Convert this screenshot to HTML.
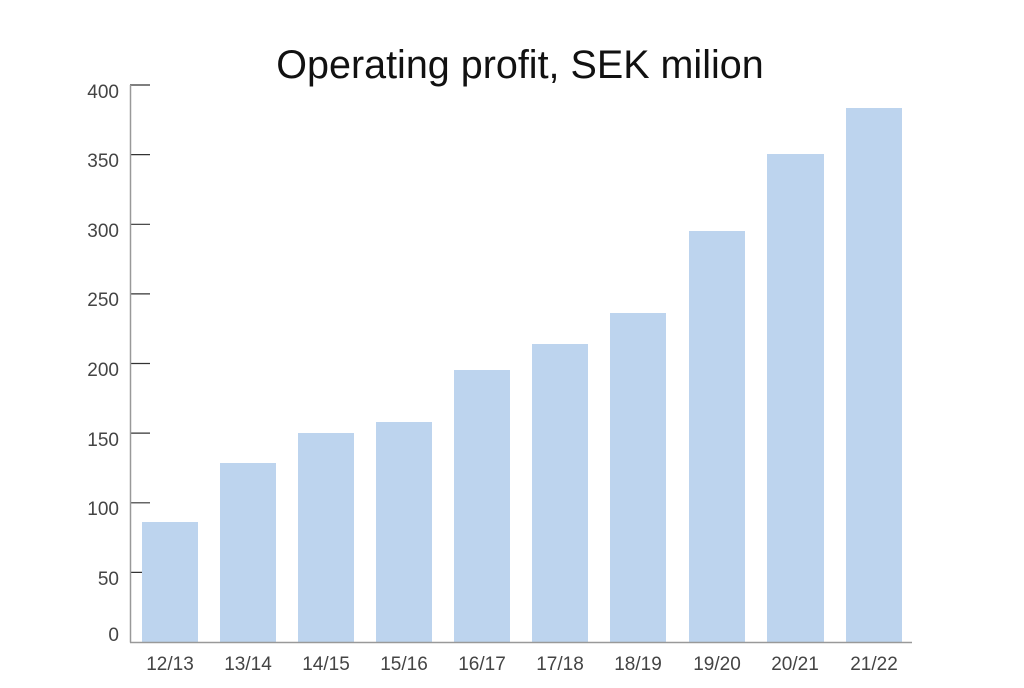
<!DOCTYPE html>
<html><head><meta charset="utf-8"><style>
html,body{margin:0;padding:0;background:#fff;}
</style></head><body>
<svg width="1024" height="683" xmlns="http://www.w3.org/2000/svg" font-family="Liberation Sans, sans-serif">
<rect width="1024" height="683" fill="#fff"/>
<text x="520" y="78" font-size="39.5" text-anchor="middle" fill="#111">Operating profit, SEK milion</text>
<g stroke="#333" stroke-width="1.2">
<line x1="130" y1="85" x2="150" y2="85"/>
<line x1="130" y1="154.6" x2="150" y2="154.6"/>
<line x1="130" y1="224.3" x2="150" y2="224.3"/>
<line x1="130" y1="293.9" x2="150" y2="293.9"/>
<line x1="130" y1="363.5" x2="150" y2="363.5"/>
<line x1="130" y1="433.1" x2="150" y2="433.1"/>
<line x1="130" y1="502.8" x2="150" y2="502.8"/>
<line x1="130" y1="572.4" x2="150" y2="572.4"/>
</g>
<g fill="#bdd4ee">
<rect x="142" y="522" width="56" height="120"/>
<rect x="220" y="463" width="56" height="179"/>
<rect x="298" y="433" width="56" height="209"/>
<rect x="376" y="422" width="56" height="220"/>
<rect x="454" y="370" width="56" height="272"/>
<rect x="532" y="344" width="56" height="298"/>
<rect x="610" y="313" width="56" height="329"/>
<rect x="689" y="231" width="56" height="411"/>
<rect x="767" y="154" width="57" height="488"/>
<rect x="846" y="108" width="56" height="534"/>
</g>
<g stroke="#999" stroke-width="1.5" fill="none">
<line x1="130.5" y1="85" x2="130.5" y2="642.5"/>
<line x1="130" y1="642.5" x2="912" y2="642.5"/>
</g>
<g font-size="19" fill="#444" text-anchor="end">
<text x="119" y="98">400</text>
<text x="119" y="167">350</text>
<text x="119" y="237">300</text>
<text x="119" y="306">250</text>
<text x="119" y="376">200</text>
<text x="119" y="446">150</text>
<text x="119" y="515">100</text>
<text x="119" y="585">50</text>
<text x="119" y="641">0</text>
</g>
<g font-size="19" fill="#444" text-anchor="middle">
<text x="170" y="670">12/13</text>
<text x="248" y="670">13/14</text>
<text x="326" y="670">14/15</text>
<text x="404" y="670">15/16</text>
<text x="482" y="670">16/17</text>
<text x="560" y="670">17/18</text>
<text x="638" y="670">18/19</text>
<text x="717" y="670">19/20</text>
<text x="795" y="670">20/21</text>
<text x="874" y="670">21/22</text>
</g>
</svg>
</body></html>
